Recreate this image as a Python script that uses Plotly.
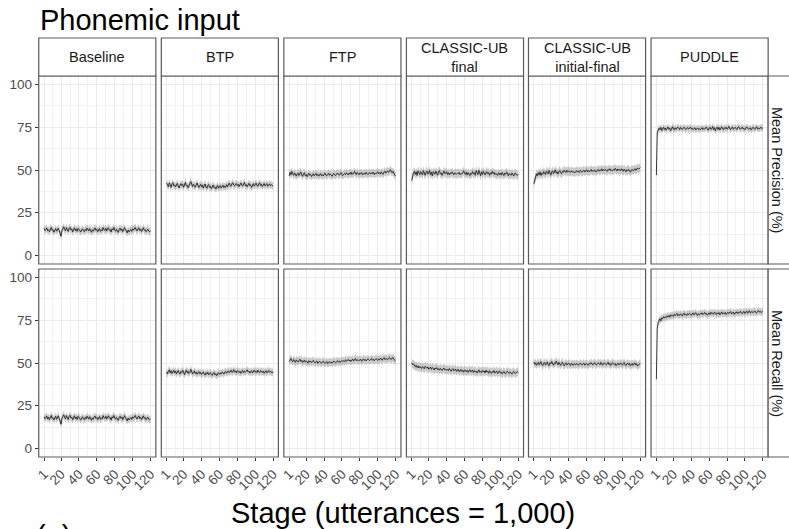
import plotly.graph_objects as go

STAGES = list(range(1, 121))
MODELS = ["Baseline", "BTP", "FTP", "CLASSIC-UB<br>final", "CLASSIC-UB<br>initial-final", "PUDDLE"]
METRICS = ["Mean Precision (%)", "Mean Recall (%)"]
X_TICKS = [1, 20, 40, 60, 80, 100, 120]
Y_TICKS = [0, 25, 50, 75, 100]

# mean precision per stage, one list per model
prec_baseline = [
    15.8, 14.6, 15.2, 16.1, 14.3, 15.0, 13.9, 15.5, 16.4, 14.8,
    15.1, 13.6, 14.9, 15.7, 14.2, 15.3, 16.0, 14.5, 12.1, 11.2,
    14.7, 15.9, 16.8, 15.2, 14.4, 16.3, 15.1, 14.0, 15.8, 16.5,
    14.9, 15.4, 13.8, 15.0, 16.2, 14.6, 15.5, 14.1, 15.9, 15.3,
    14.2, 13.7, 14.8, 15.6, 14.5, 13.9, 15.2, 14.4, 16.0, 15.1,
    14.3, 15.7, 14.9, 13.6, 15.0, 14.2, 15.4, 16.1, 14.7, 15.3,
    13.9, 14.6, 15.8, 14.1, 15.0, 14.4, 16.3, 15.2, 14.6, 15.9,
    14.3, 15.5, 16.2, 14.8, 15.1, 13.7, 15.6, 14.9, 16.4, 15.0,
    14.2, 15.3, 14.6, 13.5, 15.2, 16.0, 14.7, 15.5, 14.0, 15.8,
    16.3, 15.1, 14.4, 13.2, 14.9, 13.8, 14.5, 15.2, 14.1, 15.6,
    14.8, 15.9, 16.4, 15.0, 14.3, 15.7, 16.1, 14.6, 15.3, 14.0,
    15.5, 16.2, 14.8, 15.1, 13.9, 14.7, 15.4, 14.2, 13.8, 14.5,
]
prec_btp = [
    42.3, 41.0, 40.2, 42.5, 41.4, 39.8, 41.9, 42.6, 40.7, 41.3,
    40.1, 41.8, 42.2, 40.6, 39.5, 41.2, 42.0, 40.9, 41.6, 39.9,
    41.4, 42.7, 40.8, 41.1, 39.6, 40.5, 42.1, 43.2, 41.5, 40.3,
    41.7, 40.4, 39.9, 41.2, 42.4, 41.0, 39.7, 40.8, 41.6, 40.2,
    41.3, 39.4, 40.6, 41.8, 40.0, 39.3, 40.9, 41.5, 39.8, 40.4,
    39.1, 40.7, 41.2, 39.6, 40.1, 38.9, 40.5, 41.0, 39.3, 40.2,
    40.8, 39.5, 40.3, 41.1, 39.7, 40.6, 39.9, 41.4, 40.2, 41.7,
    42.3, 41.0, 40.5, 41.9, 42.6, 41.2, 40.7, 41.5, 42.1, 40.9,
    41.6, 40.3, 41.8, 42.4, 41.1, 40.6, 41.9, 42.7, 40.8, 41.4,
    40.2, 41.7, 42.2, 40.9, 41.3, 39.8, 41.1, 42.0, 40.6, 41.5,
    42.3, 41.0, 40.4, 41.8, 42.5, 40.9, 41.6, 40.3, 41.2, 42.1,
    40.7, 41.4, 42.0, 40.5, 41.3, 41.9, 40.8, 41.5, 40.9, 40.6,
]
prec_ftp = [
    46.5, 48.6, 47.2, 49.1, 47.8, 46.9, 48.3, 47.0, 46.4, 47.7,
    48.2, 46.8, 47.5, 48.9, 47.1, 46.3, 47.9, 48.4, 46.7, 47.3,
    46.1, 47.6, 48.1, 46.9, 47.4, 46.2, 47.0, 47.8, 46.6, 47.2,
    48.0, 46.8, 47.5, 46.4, 47.1, 47.9, 46.7, 47.3, 46.5, 47.6,
    48.2, 47.0, 46.6, 47.4, 48.1, 46.9, 47.7, 47.2, 46.3, 47.5,
    47.9, 47.1, 46.8, 47.6, 48.3, 47.4, 46.9, 47.8, 48.5, 47.2,
    46.7, 47.5, 48.0, 47.3, 48.4, 47.7, 47.1, 48.2, 47.6, 48.8,
    47.4, 48.1, 47.8, 49.2, 48.0, 47.3, 48.6, 47.9, 47.2, 48.3,
    47.7, 48.5, 47.1, 47.8, 48.2, 47.5, 48.7, 47.9, 47.3, 48.1,
    48.6, 47.6, 48.3, 47.9, 48.8, 47.4, 48.2, 47.7, 48.5, 49.0,
    47.8, 48.4, 47.6, 48.9, 48.1, 47.5, 48.7, 49.3, 48.2, 48.8,
    49.5, 48.6, 49.1, 50.2, 49.0, 48.4, 49.2, 47.8, 47.1, 46.4,
]
prec_cub_final = [
    43.8, 46.5, 48.6, 49.2, 47.4, 48.9, 46.8, 49.5, 48.1, 47.3,
    49.0, 48.4, 47.1, 49.6, 48.2, 46.9, 48.8, 49.4, 47.6, 48.3,
    49.8, 47.2, 48.7, 46.6, 49.1, 48.0, 47.5, 49.3, 48.5, 47.0,
    48.9, 49.7, 47.8, 48.2, 46.9, 48.6, 49.4, 47.9, 48.1, 49.0,
    47.4, 48.5, 47.1, 48.3, 47.8, 48.9, 47.6, 47.2, 48.4, 47.9,
    47.5, 48.1, 47.8, 48.6, 47.3, 48.0, 47.7, 48.3, 49.5, 48.2,
    47.4, 48.8, 47.0, 48.5, 47.6, 46.8, 48.2, 47.5, 49.1, 47.9,
    48.4, 46.9, 49.6, 48.0, 47.3, 49.8, 48.1, 46.7, 48.9, 47.4,
    49.3, 48.2, 47.1, 48.6, 49.0, 47.7, 48.5, 46.9, 48.3, 47.6,
    49.2, 47.9, 48.7, 47.2, 48.0, 47.5, 46.8, 48.4, 47.3, 48.1,
    47.0, 48.6, 47.8, 46.7, 48.2, 47.5, 48.9, 47.1, 46.6, 48.0,
    47.4, 46.9, 48.3, 47.7, 46.5, 47.9, 48.1, 47.2, 46.8, 47.6,
]
prec_cub_if = [
    41.9, 44.3, 46.2, 47.8, 46.5, 48.4, 47.1, 48.9, 46.8, 48.2,
    47.5, 49.1, 48.0, 47.3, 49.4, 48.6, 47.7, 49.8, 48.3, 47.0,
    48.8, 49.5, 47.9, 48.6, 50.1, 48.2, 49.0, 47.6, 48.9, 49.7,
    48.4, 47.8, 49.2, 48.7, 50.0, 49.3, 48.5, 49.8, 48.9, 49.4,
    49.1, 48.6, 49.5, 48.8, 49.2, 48.4, 49.0, 48.7, 49.6, 48.9,
    49.3, 48.5, 49.8, 49.1, 48.7, 49.4, 49.9, 48.8, 49.5, 50.2,
    49.0, 49.7, 48.9, 49.4, 50.3, 49.2, 49.8, 49.1, 50.0, 49.5,
    48.8, 49.9, 50.4, 49.3, 50.1, 49.6, 50.7, 49.4, 50.2, 49.8,
    50.5, 49.7, 49.2, 50.3, 49.9, 50.8, 49.5, 50.1, 49.6, 50.4,
    49.8, 51.0, 50.2, 49.4, 50.6, 49.9, 50.3, 49.5, 50.7, 50.0,
    49.3, 50.5, 49.8, 48.9, 50.2, 49.6, 50.4, 49.1, 48.7, 49.9,
    50.3, 49.5, 50.1, 50.8, 49.8, 50.6, 51.2, 50.4, 51.0, 51.5,
]
prec_puddle = [
    47.0, 71.8, 73.2, 74.5, 73.6, 74.9, 73.1, 74.2, 75.0, 73.7,
    74.6, 73.3, 74.1, 75.2, 73.9, 74.4, 73.0, 74.8, 75.3, 74.0,
    73.5, 74.7, 73.8, 74.3, 75.1, 74.5, 73.6, 74.9, 74.2, 73.8,
    74.6, 75.0, 74.1, 73.7, 74.4, 74.8, 73.9, 74.3, 75.1, 74.0,
    74.5, 73.6, 74.2, 74.7, 73.4, 74.0, 74.6, 73.8, 74.3, 73.5,
    74.1, 74.8, 73.7, 74.4, 73.9, 74.6, 75.2, 74.0, 73.3, 74.5,
    75.0, 73.8, 74.2, 75.4, 73.6, 74.7, 72.9, 74.3, 75.1, 73.7,
    74.9, 73.4, 74.6, 75.3, 74.0, 73.5, 74.8, 74.2, 75.0, 73.9,
    74.4, 75.5, 74.1, 73.6, 74.7, 75.2, 73.8, 74.5, 75.0, 74.3,
    73.7, 74.9, 75.4, 74.2, 73.9, 74.6, 75.1, 74.0, 74.4, 73.6,
    74.8, 75.2, 74.5, 73.9, 74.1, 74.7, 73.5, 74.3, 75.0, 74.4,
    73.8, 74.6, 75.3, 74.1, 74.5, 73.9, 74.7, 75.1, 74.2, 74.6,
]

# mean recall per stage, one list per model
rec_baseline = [
    18.6, 17.4, 18.1, 19.0, 17.2, 18.3, 16.9, 18.5, 19.3, 17.6,
    18.0, 16.7, 17.9, 18.8, 17.1, 18.4, 19.1, 17.5, 15.8, 14.2,
    17.6, 18.9, 19.7, 18.2, 17.3, 19.2, 18.0, 16.9, 18.7, 19.4,
    17.8, 18.3, 16.8, 18.0, 19.1, 17.5, 18.4, 17.0, 18.8, 18.2,
    17.2, 16.6, 17.7, 18.5, 17.4, 16.8, 18.1, 17.3, 18.9, 18.0,
    17.2, 18.6, 17.8, 16.5, 17.9, 17.1, 18.3, 19.0, 17.6, 18.2,
    16.8, 17.5, 18.7, 17.0, 17.9, 17.3, 19.2, 18.1, 17.5, 18.8,
    17.2, 18.4, 19.1, 17.7, 18.0, 16.6, 18.5, 17.8, 19.3, 17.9,
    17.1, 18.2, 17.5, 16.4, 18.1, 18.9, 17.6, 18.4, 16.9, 18.7,
    19.2, 18.0, 17.3, 16.1, 17.8, 16.7, 17.4, 18.1, 17.0, 18.5,
    17.7, 18.8, 19.3, 17.9, 17.2, 18.6, 19.0, 17.5, 18.2, 16.9,
    18.4, 19.1, 17.7, 18.0, 16.8, 17.6, 18.3, 17.1, 16.7, 17.4,
]
rec_btp = [
    44.8, 43.6, 45.2, 46.0, 44.3, 45.5, 43.9, 44.7, 45.8, 44.1,
    45.3, 43.7, 44.9, 45.6, 44.2, 43.5, 45.0, 44.4, 45.7, 44.0,
    43.2, 44.6, 45.9, 44.3, 45.1, 43.8, 44.5, 46.3, 44.9, 43.6,
    44.2, 45.4, 43.9, 44.7, 43.4, 44.1, 45.0, 43.7, 44.5, 43.3,
    44.0, 44.8, 43.6, 42.9, 44.3, 43.5, 44.6, 43.1, 43.9, 44.4,
    43.2, 42.8, 43.8, 44.5, 43.0, 43.7, 42.6, 43.9, 44.3, 43.4,
    44.1, 43.6, 44.8, 44.2, 43.5, 44.7, 45.1, 44.0, 44.6, 45.4,
    44.3, 45.0, 45.8, 44.5, 44.9, 46.1, 44.7, 45.3, 44.2, 45.6,
    44.8, 44.4, 45.2, 44.0, 44.9, 45.7, 44.3, 45.1, 44.6, 45.4,
    46.0, 44.8, 45.3, 44.1, 44.7, 45.5, 44.2, 45.0, 45.8, 44.6,
    45.2, 44.4, 45.9, 44.9, 44.3, 45.6, 45.1, 44.5, 45.3, 44.0,
    44.8, 45.5, 44.2, 45.0, 45.7, 44.6, 45.2, 44.4, 44.9, 44.1,
]
rec_ftp = [
    50.8, 51.9, 52.6, 51.3, 50.7, 52.0, 51.5, 50.4, 51.8, 51.1,
    50.6, 51.4, 52.2, 50.9, 51.6, 50.3, 51.0, 51.7, 50.5, 51.2,
    50.8, 49.9, 51.3, 50.6, 51.1, 50.2, 50.9, 51.5, 50.4, 50.0,
    50.7, 51.2, 49.8, 50.5, 51.0, 50.3, 49.9, 50.6, 51.1, 50.2,
    49.7, 50.4, 50.9, 49.6, 50.3, 50.8, 50.1, 50.6, 49.9, 50.7,
    51.2, 50.5, 50.0, 50.8, 51.4, 50.6, 51.1, 50.3, 50.9, 51.5,
    50.8, 51.3, 50.7, 51.9, 51.0, 51.6, 52.1, 51.2, 51.8, 50.9,
    51.5, 52.3, 51.1, 51.7, 52.6, 51.4, 52.0, 51.3, 51.9, 51.6,
    52.2, 51.0, 51.8, 52.4, 51.5, 52.1, 51.2, 51.7, 52.5, 51.9,
    51.4, 52.0, 52.7, 51.6, 52.2, 51.3, 51.9, 52.6, 52.1, 51.5,
    52.3, 51.8, 52.9, 52.2, 51.6, 52.5, 53.1, 52.0, 52.7, 52.3,
    51.9, 52.8, 53.3, 52.4, 52.0, 52.9, 53.2, 52.1, 51.6, 51.2,
]
rec_cub_final = [
    50.1, 48.9, 49.5, 48.2, 47.8, 48.7, 47.4, 48.3, 47.1, 48.0,
    47.5, 46.8, 47.9, 47.2, 46.6, 48.1, 47.3, 46.9, 47.7, 46.4,
    47.0, 47.6, 46.3, 47.4, 46.8, 45.9, 47.1, 46.5, 47.3, 46.0,
    46.7, 45.8, 46.9, 46.2, 45.6, 46.6, 47.0, 45.9, 46.4, 45.7,
    46.3, 45.5, 46.8, 45.9, 45.2, 46.1, 46.7, 45.4, 45.8, 46.5,
    45.1, 45.9, 46.4, 44.8, 45.6, 46.2, 45.0, 45.7, 44.6, 46.0,
    45.3, 44.9, 45.8, 44.5, 45.4, 46.1, 44.7, 45.2, 45.9, 44.4,
    45.6, 44.8, 45.3, 44.1, 45.5, 46.0, 44.6, 45.1, 44.3, 45.7,
    44.9, 45.4, 44.2, 45.8, 44.7, 45.2, 44.0, 45.5, 44.6, 43.9,
    45.0, 44.5, 45.6, 44.1, 44.8, 45.3, 43.8, 44.9, 45.4, 44.2,
    44.7, 43.6, 44.4, 45.1, 44.0, 43.7, 44.6, 45.2, 44.3, 43.9,
    44.8, 44.1, 43.5, 44.5, 45.0, 44.2, 43.8, 44.6, 45.1, 44.4,
]
rec_cub_if = [
    50.6, 49.2, 50.1, 48.7, 49.8, 50.4, 48.9, 49.6, 50.8, 49.1,
    48.5, 49.9, 50.3, 48.8, 49.4, 50.6, 49.0, 48.4, 50.2, 49.5,
    50.9, 49.3, 48.7, 50.0, 49.6, 51.1, 49.8, 48.9, 50.4, 49.2,
    48.6, 49.7, 50.5, 49.1, 48.3, 49.5, 50.1, 48.8, 49.4, 50.0,
    49.2, 48.5, 49.8, 49.0, 48.7, 49.6, 49.3, 48.9, 49.7, 49.1,
    48.6, 49.4, 50.0, 49.2, 48.8, 49.5, 49.9, 48.7, 49.3, 49.8,
    49.0, 48.6, 49.7, 49.4, 50.2, 49.1, 48.8, 49.6, 50.3, 49.2,
    48.9, 49.5, 50.1, 49.7, 49.0, 50.4, 49.3, 48.7, 49.8, 50.0,
    49.4, 48.9, 49.6, 50.5, 49.1, 49.8, 48.6, 49.3, 50.2, 49.5,
    49.0, 49.7, 48.4, 49.2, 49.9, 48.8, 49.5, 50.1, 49.3, 48.7,
    49.6, 50.3, 49.0, 48.5, 49.4, 50.0, 48.9, 49.7, 48.3, 49.2,
    49.8, 48.6, 49.4, 50.1, 48.8, 49.5, 48.2, 49.0, 49.6, 49.9,
]
rec_puddle = [
    40.5, 70.2, 73.6, 74.8, 75.9, 74.7, 76.4, 75.8, 77.1, 76.3,
    77.0, 76.5, 77.6, 76.9, 77.8, 76.8, 78.2, 77.4, 78.0, 77.3,
    78.5, 77.7, 78.1, 79.0, 77.6, 78.4, 77.9, 78.8, 78.2, 77.5,
    78.6, 79.2, 78.0, 78.5, 77.8, 78.9, 78.3, 79.1, 78.6, 77.9,
    78.7, 79.3, 78.1, 78.8, 79.5, 78.4, 77.7, 78.9, 78.2, 79.0,
    78.6, 79.4, 78.3, 78.9, 79.6, 78.5, 79.1, 78.0, 78.8, 79.3,
    78.4, 79.7, 78.9, 79.2, 78.5, 79.8, 79.0, 78.3, 79.4, 78.7,
    79.5, 78.2, 79.1, 79.9, 78.6, 79.3, 78.8, 79.6, 78.4, 79.0,
    79.7, 78.9, 79.4, 80.1, 78.7, 79.2, 79.8, 78.5, 79.5, 79.1,
    80.0, 78.9, 79.6, 79.2, 80.3, 79.4, 78.8, 79.7, 80.2, 79.0,
    79.5, 80.4, 79.1, 79.8, 80.6, 79.3, 79.9, 80.2, 79.4, 80.0,
    80.5, 79.6, 79.2, 80.1, 80.7, 79.8, 80.3, 79.5, 80.0, 80.4,
]

PRECISION = [prec_baseline, prec_btp, prec_ftp, prec_cub_final, prec_cub_if, prec_puddle]
RECALL = [rec_baseline, rec_btp, rec_ftp, rec_cub_final, rec_cub_if, rec_puddle]
# half-width of the grey band around each mean line
PREC_BAND = [2.2, 2.2, 2.4, 2.6, 2.6, 2.0]
REC_BAND = [2.2, 2.2, 2.4, 2.6, 2.4, 2.2]

W, H = 789, 529
COL_LEFT = [35, 158.5, 282, 405.5, 528.5, 652]
PANEL_W = 118
ROW_TOP = [76, 269]
PANEL_H = 188
STRIP_TOP = 38
FONT = "Liberation Sans, Arial, sans-serif"


def px_x(p):
    return p / W


def px_y(p):
    return 1 - p / H


fig = go.Figure()
shapes, annotations = [], []
layout = {}

for r, (series, bands) in enumerate([(PRECISION, PREC_BAND), (RECALL, REC_BAND)]):
    for c in range(6):
        idx = r * 6 + c + 1
        xname = "x" if idx == 1 else f"x{idx}"
        yname = "y" if idx == 1 else f"y{idx}"
        vals = series[c]
        lo = [v - bands[c] for v in vals]
        hi = [v + bands[c] for v in vals]
        fig.add_trace(go.Scatter(x=STAGES, y=lo, mode="lines", line=dict(width=0),
                                 xaxis=xname, yaxis=yname, showlegend=False, hoverinfo="skip"))
        fig.add_trace(go.Scatter(x=STAGES, y=hi, mode="lines", line=dict(width=0),
                                 fill="tonexty", fillcolor="rgba(150,150,150,0.5)",
                                 xaxis=xname, yaxis=yname, showlegend=False, hoverinfo="skip"))
        fig.add_trace(go.Scatter(x=STAGES, y=vals, mode="lines",
                                 line=dict(color="#222222", width=0.9),
                                 xaxis=xname, yaxis=yname, showlegend=False))

        x0, x1 = COL_LEFT[c], COL_LEFT[c] + PANEL_W
        y0, y1 = ROW_TOP[r], ROW_TOP[r] + PANEL_H
        layout[f"xaxis{'' if idx == 1 else idx}"] = dict(
            domain=[px_x(x0), px_x(x1)], anchor=yname, range=[-4.95, 125.95],
            tickvals=X_TICKS, ticktext=[str(t) for t in X_TICKS],
            showticklabels=(r == 1), ticks="outside" if r == 1 else "", ticklen=3,
            tickcolor="#333333", tickangle=-45,
            tickfont=dict(size=13.5, color="#4d4d4d", family=FONT),
            showgrid=True, gridcolor="#ebebeb", gridwidth=1, zeroline=False, showline=False,
            minor=dict(tickvals=[10.5, 30, 50, 70, 90, 110], showgrid=True,
                       gridcolor="#f2f2f2", gridwidth=0.6),
        )
        layout[f"yaxis{'' if idx == 1 else idx}"] = dict(
            domain=[px_y(y1), px_y(y0)], anchor=xname, range=[-5, 105],
            tickvals=Y_TICKS, showticklabels=(c == 0), ticks="outside" if c == 0 else "",
            ticklen=3, tickcolor="#333333",
            tickfont=dict(size=13.5, color="#4d4d4d", family=FONT),
            showgrid=True, gridcolor="#ebebeb", gridwidth=1, zeroline=False, showline=False,
            minor=dict(tickvals=[12.5, 37.5, 62.5, 87.5], showgrid=True,
                       gridcolor="#f2f2f2", gridwidth=0.6),
        )
        # panel border
        shapes.append(dict(type="rect", xref="paper", yref="paper",
                           x0=px_x(x0), x1=px_x(x1), y0=px_y(y1), y1=px_y(y0),
                           line=dict(color="#5a5a5a", width=1.2), fillcolor="rgba(0,0,0,0)",
                           layer="above"))

# top facet strips
for c, label in enumerate(MODELS):
    x0, x1 = COL_LEFT[c], COL_LEFT[c] + PANEL_W
    shapes.append(dict(type="rect", xref="paper", yref="paper",
                       x0=px_x(x0), x1=px_x(x1), y0=px_y(ROW_TOP[0]), y1=px_y(STRIP_TOP),
                       line=dict(color="#5a5a5a", width=1.2), fillcolor="white"))
    annotations.append(dict(text=label, xref="paper", yref="paper", showarrow=False,
                            x=px_x((x0 + x1) / 2), y=px_y((STRIP_TOP + ROW_TOP[0]) / 2),
                            xanchor="center", yanchor="middle",
                            font=dict(size=14.5, color="#1a1a1a", family=FONT)))

# right facet strips
for r, label in enumerate(METRICS):
    y0, y1 = ROW_TOP[r], ROW_TOP[r] + PANEL_H
    shapes.append(dict(type="rect", xref="paper", yref="paper",
                       x0=px_x(770), x1=px_x(800), y0=px_y(y1), y1=px_y(y0),
                       line=dict(color="#5a5a5a", width=1.2), fillcolor="white"))
    annotations.append(dict(text=label, xref="paper", yref="paper", showarrow=False,
                            x=px_x(779), y=px_y((y0 + y1) / 2), textangle=90,
                            xanchor="center", yanchor="middle",
                            font=dict(size=14.5, color="#1a1a1a", family=FONT)))

annotations.append(dict(text="Phonemic input", xref="paper", yref="paper", showarrow=False,
                        x=px_x(34), y=px_y(20), xanchor="left", yanchor="middle",
                        font=dict(size=29, color="black", family=FONT)))
annotations.append(dict(text="Stage (utterances = 1,000)", xref="paper", yref="paper",
                        showarrow=False, x=px_x(402), y=px_y(513), xanchor="center",
                        yanchor="middle", font=dict(size=29, color="black", family=FONT)))
annotations.append(dict(text="(a)", xref="paper", yref="paper", showarrow=False,
                        x=px_x(30), y=px_y(536), xanchor="left", yanchor="middle",
                        font=dict(size=29, color="black", family=FONT)))

fig.update_layout(
    width=W, height=H, margin=dict(l=0, r=0, t=0, b=0),
    paper_bgcolor="white", plot_bgcolor="white",
    shapes=shapes, annotations=annotations, **layout,
)

# drop the default 8px page margin so the figure sits at the window origin
fig.write_html("out.html", config={"displayModeBar": False},
               post_script="document.body.style.margin = '0';")
